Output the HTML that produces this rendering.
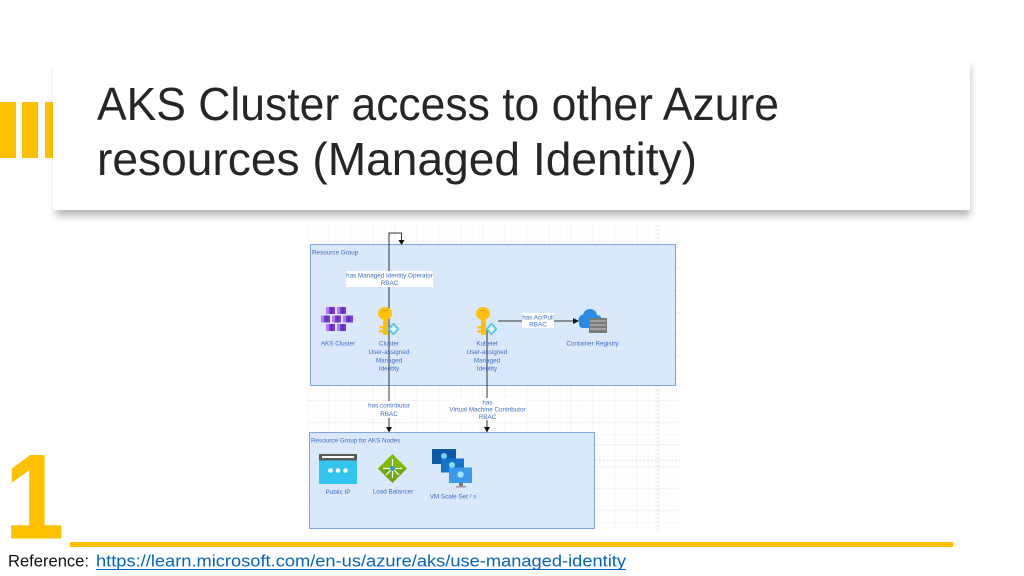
<!DOCTYPE html>
<html><head><meta charset="utf-8"><style>
html,body{margin:0;padding:0;background:#fff;}
svg{display:block;}
.t{font-family:"Liberation Sans",sans-serif;}
.d{font-family:"Liberation Sans",sans-serif;font-size:6.3px;fill:#3f6fc2;}
</style></head><body>
<svg width="1024" height="576" viewBox="0 0 1024 576" xmlns="http://www.w3.org/2000/svg">
<defs>
<filter id="sh" x="-5%" y="-20%" width="110%" height="150%"><feGaussianBlur stdDeviation="4"/></filter>
<pattern id="gm" width="5.5" height="5.5" patternUnits="userSpaceOnUse"><path d="M5.5 0V5.5H0" fill="none" stroke="#f2f2f2" stroke-width="0.6"/></pattern>
<pattern id="gM" width="22" height="22" patternUnits="userSpaceOnUse" x="307" y="225"><path d="M22 0V22H0" fill="none" stroke="#e4e4e4" stroke-width="0.7"/></pattern>
</defs>
<rect width="1024" height="576" fill="#fff"/>

<!-- yellow bars -->
<rect x="0" y="102" width="16" height="56" fill="#FFC000"/>
<rect x="22" y="102" width="16" height="56" fill="#FFC000"/>
<rect x="45" y="102" width="10" height="56" fill="#FFC000"/>

<!-- title box -->
<rect x="56" y="66" width="914" height="150" fill="#000" opacity="0.28" filter="url(#sh)"/>
<rect x="53" y="58" width="917" height="152" fill="#fff"/>
<text class="t" x="97" y="120" font-size="46" fill="#262626" textLength="682" lengthAdjust="spacingAndGlyphs">AKS Cluster access to other Azure</text>
<text class="t" x="97" y="175" font-size="46" fill="#262626" textLength="600" lengthAdjust="spacingAndGlyphs">resources (Managed Identity)</text>

<!-- diagram background grid -->
<rect x="307" y="225" width="373" height="305" fill="#fff"/>
<rect x="307" y="225" width="373" height="305" fill="url(#gm)"/>
<rect x="307" y="225" width="373" height="305" fill="url(#gM)"/>
<line x1="657" y1="225" x2="657" y2="530" stroke="#dcdcdc" stroke-width="0.8" stroke-dasharray="2,2"/>
<line x1="595" y1="460" x2="680" y2="460" stroke="#dcdcdc" stroke-width="0.8" stroke-dasharray="2,2"/>

<!-- resource group -->
<rect x="310.5" y="244.5" width="365" height="141" fill="#dae8fc" stroke="#7ea6e0" stroke-width="1"/>
<text class="d" x="312" y="254.5">Resource Group</text>

<!-- nodes group -->
<rect x="309.5" y="432.5" width="285" height="96" fill="#dae8fc" stroke="#7ea6e0" stroke-width="1"/>
<text class="d" x="311" y="442.5">Resource Group for AKS Nodes</text>

<!-- connectors -->
<path d="M389 432 V233 H401.5 V241" fill="none" stroke="#333" stroke-width="1"/>
<polygon points="398.5,240 404.5,240 401.5,245" fill="#111"/>
<polygon points="386,427 392,427 389,432.5" fill="#111"/>
<path d="M487 330 V428" fill="none" stroke="#333" stroke-width="1"/>
<polygon points="484,427 490,427 487,432.5" fill="#111"/>
<path d="M498 321 H574" fill="none" stroke="#333" stroke-width="1"/>
<polygon points="573,318 573,324 579,321" fill="#111"/>

<!-- connector labels -->
<rect x="346" y="271" width="87" height="16" fill="#fff"/>
<text class="d" x="389.5" y="277.5" text-anchor="middle">has Managed Identity Operator</text>
<text class="d" x="389.5" y="285" text-anchor="middle">RBAC</text>
<rect x="522" y="313" width="32" height="15" fill="#fff"/>
<text class="d" x="538" y="319.3" text-anchor="middle">has AcrPull</text>
<text class="d" x="538" y="326.5" text-anchor="middle">RBAC</text>
<rect x="368" y="401" width="42" height="17" fill="#fff"/>
<text class="d" x="389" y="407.5" text-anchor="middle">has contributor</text>
<text class="d" x="389" y="416" text-anchor="middle">RBAC</text>
<rect x="449" y="398" width="77" height="22" fill="#fff"/>
<text class="d" x="487.5" y="404.5" text-anchor="middle">has</text>
<text class="d" x="487.5" y="411.5" text-anchor="middle">Virtual Machine Contributor</text>
<text class="d" x="487.5" y="419" text-anchor="middle">RBAC</text>

<!-- AKS cluster icon -->
<g>
<g fill="#773adc"><rect x="326" y="307" width="9" height="7"/><rect x="337" y="307" width="9" height="7"/>
<rect x="321" y="315.5" width="9" height="7"/><rect x="332" y="315.5" width="9" height="7"/><rect x="343" y="315.5" width="10" height="7"/>
<rect x="326" y="324" width="9" height="7"/><rect x="337" y="324" width="9" height="7"/></g>
<g fill="#b77af4"><rect x="326" y="307" width="3" height="7"/><rect x="337" y="307" width="3" height="7"/>
<rect x="321" y="315.5" width="3" height="7"/><rect x="332" y="315.5" width="3" height="7"/><rect x="343" y="315.5" width="3" height="7"/>
<rect x="326" y="324" width="3" height="7"/><rect x="337" y="324" width="3" height="7"/></g>
<g fill="#552f99"><rect x="331" y="307" width="1.2" height="7"/><rect x="342" y="307" width="1.2" height="7"/>
<rect x="326" y="315.5" width="1.2" height="7"/><rect x="337" y="315.5" width="1.2" height="7"/><rect x="348" y="315.5" width="1.2" height="7"/>
<rect x="331" y="324" width="1.2" height="7"/><rect x="342" y="324" width="1.2" height="7"/></g>
</g>
<text class="d" x="338" y="345.5" text-anchor="middle">AKS Cluster</text>

<!-- Cluster key -->
<g>
<ellipse cx="385" cy="313.5" rx="7" ry="6.5" fill="#ffc10a"/>
<rect x="382" y="310" width="6" height="1.2" fill="#e29b00"/>
<rect x="383" y="318" width="5" height="17" fill="#ffc10a"/>
<rect x="379.5" y="326" width="4" height="2.5" fill="#ffc10a"/>
<rect x="379.5" y="330" width="4" height="2.5" fill="#ffc10a"/>
<polygon points="393.5,322.5 399.5,329 393.5,335.5 387.5,329" fill="#50c7e8"/>
<polygon points="393.5,325 397,329 393.5,333 390,329" fill="#e6f7fc"/>
</g>
<text class="d" x="389" y="345.5" text-anchor="middle">Cluster</text>
<text class="d" x="389" y="354" text-anchor="middle">User-assigned</text>
<text class="d" x="389" y="362.3" text-anchor="middle">Managed</text>
<text class="d" x="389" y="370.5" text-anchor="middle">Identity</text>

<!-- Kubelet key -->
<g transform="translate(98,0)">
<ellipse cx="385" cy="313.5" rx="7" ry="6.5" fill="#ffc10a"/>
<rect x="382" y="310" width="6" height="1.2" fill="#e29b00"/>
<rect x="383" y="318" width="5" height="17" fill="#ffc10a"/>
<rect x="379.5" y="326" width="4" height="2.5" fill="#ffc10a"/>
<rect x="379.5" y="330" width="4" height="2.5" fill="#ffc10a"/>
<polygon points="393.5,322.5 399.5,329 393.5,335.5 387.5,329" fill="#50c7e8"/>
<polygon points="393.5,325 397,329 393.5,333 390,329" fill="#e6f7fc"/>
</g>
<text class="d" x="487" y="345.5" text-anchor="middle">Kubelet</text>
<text class="d" x="487" y="354" text-anchor="middle">User-assigned</text>
<text class="d" x="487" y="362.3" text-anchor="middle">Managed</text>
<text class="d" x="487" y="370.5" text-anchor="middle">Identity</text>

<!-- Container registry -->
<g>
<circle cx="590" cy="316" r="7" fill="#2a8ae4"/>
<circle cx="584" cy="320" r="5.5" fill="#2a8ae4"/>
<circle cx="597" cy="320" r="5" fill="#2a8ae4"/>
<rect x="579" y="320" width="22" height="8" rx="4" fill="#2a8ae4"/>
<rect x="589" y="318" width="18" height="15" fill="#7a7a7a"/>
<rect x="590" y="320" width="16" height="2" fill="#a0a0a0"/>
<rect x="590" y="324" width="16" height="2" fill="#a0a0a0"/>
<rect x="590" y="328" width="16" height="2" fill="#a0a0a0"/>
</g>
<text class="d" x="592.5" y="345.5" text-anchor="middle">Container Registry</text>

<!-- Public IP -->
<g>
<rect x="319" y="454" width="38" height="30" fill="#32c5ef"/>
<rect x="319" y="454" width="38" height="6.5" fill="#5a5a5a"/>
<rect x="322" y="456" width="32" height="2" fill="#fff"/>
<circle cx="330.5" cy="470.5" r="2.3" fill="#fff"/>
<circle cx="338" cy="470.5" r="2.3" fill="#fff"/>
<circle cx="345.5" cy="470.5" r="2.3" fill="#fff"/>
</g>
<text class="d" x="338" y="494" text-anchor="middle">Public IP</text>

<!-- Load balancer -->
<g>
<polygon points="392.5,454 407,468.5 392.5,483 378,468.5" fill="#7fba00"/>
<polygon points="392.5,468.5 407,468.5 392.5,483 378,468.5" fill="#5e9624" opacity="0.5"/>
<path d="M392.5 459 V478 M383 468.5 H402 M392.5 468.5 L386 475 M392.5 468.5 L399 475" stroke="#fff" stroke-width="1.2" fill="none"/>
<circle cx="392.5" cy="468.5" r="2.5" fill="#3999c6"/>
</g>
<text class="d" x="393" y="493.5" text-anchor="middle">Load Balancer</text>

<!-- VM scale set -->
<g>
<rect x="432" y="449" width="24" height="15" fill="#0a5aa8"/>
<circle cx="444" cy="456" r="3" fill="#7fd3f5"/>
<rect x="441" y="458.5" width="23" height="14" fill="#1473c9"/>
<circle cx="452" cy="465" r="3" fill="#8fdcf7"/>
<rect x="449" y="467.5" width="23" height="15.5" fill="#3b9aec"/>
<circle cx="460.5" cy="474.5" r="3.2" fill="#a5e4f9"/>
<rect x="459" y="483" width="4" height="3" fill="#777"/>
<rect x="456" y="486" width="10" height="1.5" fill="#999"/>
</g>
<text class="d" x="453" y="498.5" text-anchor="middle">VM Scale Set / s</text>

<!-- big 1 -->
<g transform="translate(12,0) scale(0.88,1) translate(-12,0)">
<text class="t" x="4" y="538" font-size="120" font-weight="bold" fill="#FFC000" stroke="#FFC000" stroke-width="1">1</text>
</g>

<!-- bottom line -->
<rect x="70" y="542" width="883" height="5" fill="#FFC000"/>

<!-- reference -->
<text class="t" x="8" y="566.5" font-size="17" fill="#111" textLength="81" lengthAdjust="spacingAndGlyphs">Reference:</text>
<text class="t" x="96" y="566.5" font-size="17" fill="#0563c1" textLength="530" lengthAdjust="spacingAndGlyphs">https://learn.microsoft.com/en-us/azure/aks/use-managed-identity</text>
<line x1="96" y1="569.5" x2="626" y2="569.5" stroke="#0563c1" stroke-width="1"/>
</svg>
</body></html>
